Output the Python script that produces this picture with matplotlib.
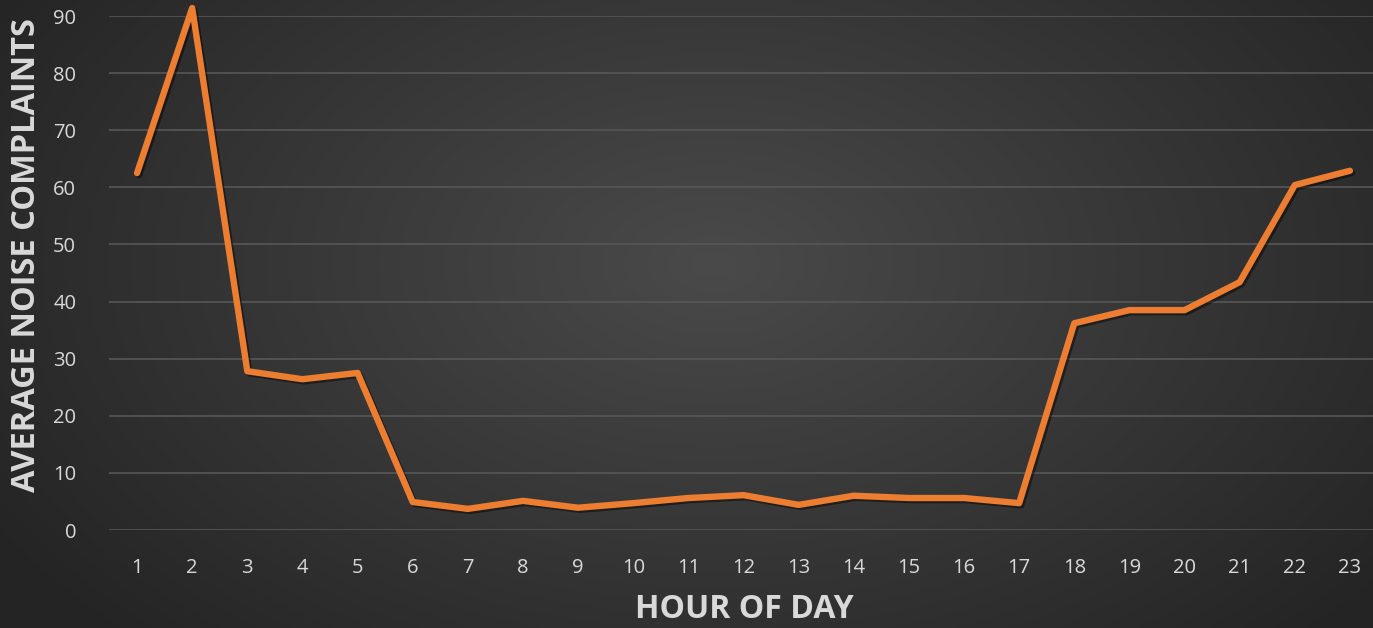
import numpy as np
import matplotlib
matplotlib.use("Agg")
import matplotlib.pyplot as plt
import matplotlib.patheffects as pe

hours = list(range(1, 24))
complaints = [62.5, 91.4, 27.8, 26.4, 27.5, 4.9, 3.7, 5.1, 3.9, 4.7, 5.6, 6.1,
              4.4, 6.0, 5.6, 5.6, 4.7, 36.2, 38.5, 38.5, 43.4, 60.4, 62.9]
y_ticks = [0, 10, 20, 30, 40, 50, 60, 70, 80, 90]
x_label = "HOUR OF DAY"
y_label = "AVERAGE NOISE COMPLAINTS"

W, H = 1373, 628
fig = plt.figure(figsize=(W / 100, H / 100), dpi=100)

# radial gradient background
bg = fig.add_axes([0, 0, 1, 1], zorder=0)
yy, xx = np.mgrid[0:H, 0:W]
cx, cy = W * 0.52, H * 0.42
r = np.sqrt(((xx - cx) / (W * 0.62)) ** 2 + ((yy - cy) / (H * 0.85)) ** 2)
r = np.clip(r, 0, 1)
inner = np.array([0x4a, 0x4a, 0x4a]) / 255
outer = np.array([0x24, 0x24, 0x24]) / 255
img = inner[None, None, :] * (1 - r[..., None]) + outer[None, None, :] * r[..., None]
bg.imshow(img, aspect="auto", extent=[0, 1, 0, 1], origin="upper")
bg.axis("off")

left = 109.5 / W
bottom = 1 - 530 / H
width = (1377.5 - 109.5) / W
height = (530 - 16) / H
ax = fig.add_axes([left, bottom, width, height], zorder=1)
ax.patch.set_alpha(0)
ax.set_xlim(0.5, 23.5)
ax.set_ylim(0, 90)
ax.set_yticks(y_ticks)
ax.set_xticks(hours)
ax.grid(axis="y", color="#575757", linewidth=1.2)
ax.set_axisbelow(True)
for s in ax.spines.values():
    s.set_visible(False)
ax.tick_params(length=0, colors="#d9d9d9", labelsize=14.5)
ax.tick_params(axis="y", pad=24)
ax.tick_params(axis="x", pad=20)
for lab in ax.get_xticklabels() + ax.get_yticklabels():
    lab.set_fontfamily("Open Sans")

ax.plot(hours, complaints, color="#ED7D31", linewidth=4.6, clip_on=False,
        solid_joinstyle="round", solid_capstyle="round",
        path_effects=[pe.SimpleLineShadow(offset=(1.5, -1.5), shadow_color="black", alpha=0.45),
                      pe.Normal()])

fig.text(744 / W, 1 - 610 / H, x_label, ha="center", va="center",
         fontsize=23, fontweight="bold", color="#d9d9d9", family="Open Sans")
fig.text(27 / W, 1 - 255 / H, y_label, ha="center", va="center", rotation=90,
         fontsize=23.5, fontweight="bold", color="#d9d9d9", family="Open Sans")

fig.savefig("out.png", dpi=100)
